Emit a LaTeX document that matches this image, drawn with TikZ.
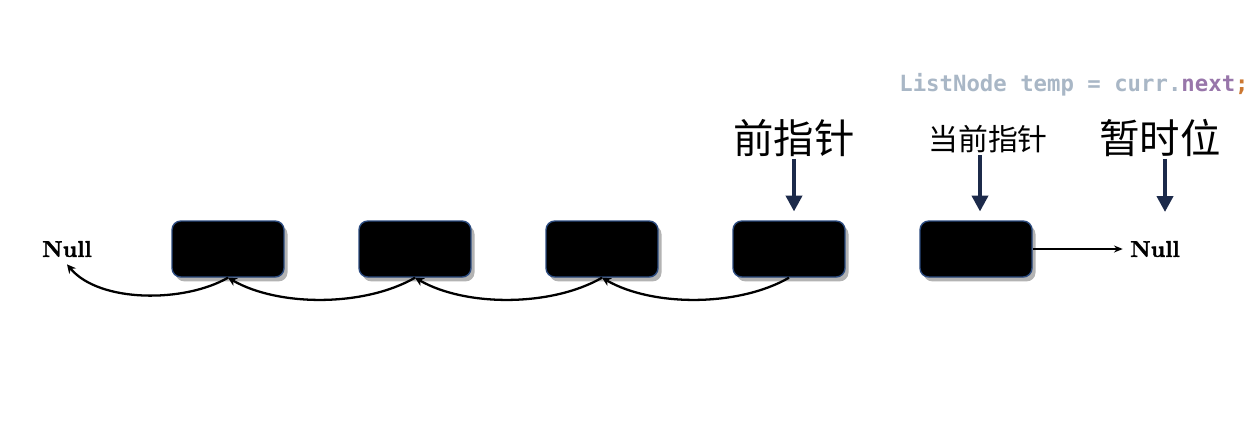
\documentclass[tikz,border=0pt]{standalone}
\usepackage{fontspec}
\usepackage{tikz}
\usetikzlibrary{arrows,arrows.meta,shapes,positioning,shadows}
\newfontfamily\cjk{Noto Sans CJK SC}
\newfontfamily\codefont{DejaVu Sans Mono}
\newfontfamily\nullwordfont{lmroman10-bold}[Extension=.otf, FakeBold=1.6]
\definecolor{boxedge}{HTML}{2B4A7E}
\definecolor{ptrblue}{HTML}{1C2A4A}
\definecolor{codegray}{HTML}{A9B7C6}
\definecolor{codepurple}{HTML}{9876AA}
\definecolor{codeorange}{HTML}{CC7832}

\begin{document}
\begin{tikzpicture}[x=0.02cm,y=-0.02cm]
                    \tikzstyle{listbox}=[draw=boxedge, fill=black, line width=0.8pt, rounded corners=5pt,
                      minimum width=2.24cm, minimum height=1.12cm, inner sep=0pt,
                      drop shadow={opacity=0.6, shadow xshift=2pt, shadow yshift=-2.5pt}]
                    \tikzstyle{nulltext}=[font=\nullwordfont\fontsize{13}{15}\selectfont, inner sep=4pt]
                    \tikzstyle{bigcjk}=[font=\cjk\fontsize{23}{26}\selectfont, inner sep=1pt]
                    \tikzstyle{smallcjk}=[font=\cjk\fontsize{17}{20}\selectfont, inner sep=1pt]
                    \tikzstyle{backlink}=[black, line width=1.3pt, -{Stealth[length=5pt,width=5pt]}]
                    \tikzstyle{ptrarrow}=[ptrblue, line width=2.6pt, -{Triangle[length=9pt,width=9pt]}]
                    \useasboundingbox (0,0) rectangle (1251,437);
                    \node [listbox] (n1) at (228,249) {};
                    \node [listbox] (n2) at (415,249) {};
                    \node [listbox] (n3) at (602,249) {};
                    \node [listbox] (n4) at (789,249) {};
                    \node [listbox] (n5) at (976,249) {};
                    \node [nulltext] (nullL) at (67,249) {Null};
                    \node [nulltext] (nullR) at (1155,249) {Null};
                    \node [bigcjk] (prev) at (794,138) {前指针};
                    \node [smallcjk] (curr) at (988,139) {当前指针};
                    \node [bigcjk] (temp) at (1160,138) {暂时位};
                    \node [anchor=west, inner sep=0pt, font=\codefont\fontsize{12.7}{15}\selectfont\bfseries, text=codegray] (code) at (899,85)
                      {ListNode temp = curr.\textcolor{codepurple}{next}\textcolor{codeorange}{;}};
                    \coordinate (tempTip) at (1165,212);
                    \draw [backlink] (n2.south) to [out=-150, in=-30, looseness=0.8] (n1.south);
                    \draw [backlink] (n3.south) to [out=-150, in=-30, looseness=0.8] (n2.south);
                    \draw [backlink] (n4.south) to [out=-150, in=-30, looseness=0.8] (n3.south);
                    \draw [backlink] (n1.south) to [out=-150, in=-50, looseness=0.8] (nullL.south);
                    \draw [black, line width=0.9pt, -{Stealth[length=5pt,width=4pt]}] (n5.east) -- (nullR.west);
                    \draw [ptrarrow] (prev.south) -- ([yshift=5pt]prev.south |- n4.north);
                    \draw [ptrarrow] (curr.south -| 980,0) -- ([yshift=5pt]980,0 |- n5.north);
                    \draw [ptrarrow] (temp.south -| tempTip) -- (tempTip);
\end{tikzpicture}
\end{document}
